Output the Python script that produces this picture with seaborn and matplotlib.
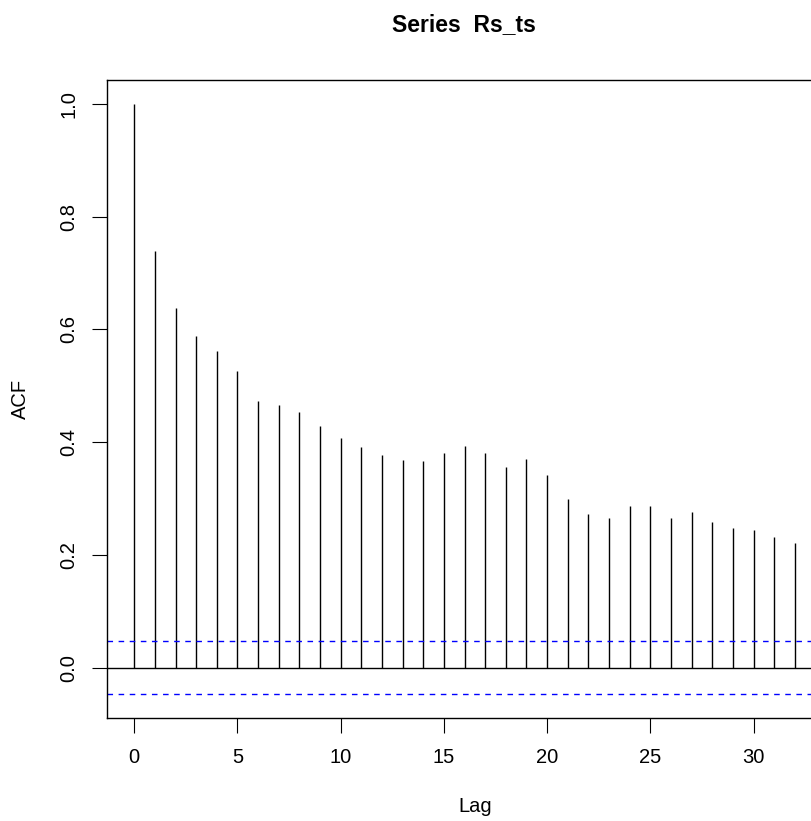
import numpy as np
import pandas as pd
import matplotlib
matplotlib.use("Agg")
import matplotlib.pyplot as plt
import seaborn as sns

# ACF values (lags 0..32 visible)
lags = list(range(33))
acf = [1.0, 0.739, 0.637, 0.588, 0.562, 0.526, 0.473, 0.466, 0.454, 0.428,
       0.407, 0.392, 0.378, 0.368, 0.366, 0.380, 0.394, 0.380, 0.356, 0.370,
       0.342, 0.300, 0.272, 0.265, 0.286, 0.286, 0.265, 0.277, 0.258, 0.248,
       0.245, 0.231, 0.222]
ci = 0.047
max_lag = 33

df = pd.DataFrame({"Lag": lags, "ACF": acf})

sns.set_theme(style="white")
plt.rcParams['font.family'] = ['Liberation Sans', 'DejaVu Sans']
plt.rcParams['text.color'] = 'black'
plt.rcParams['axes.labelcolor'] = 'black'
plt.rcParams['xtick.color'] = 'black'
plt.rcParams['ytick.color'] = 'black'

fig = plt.figure(figsize=(8.12, 8.21), dpi=100)
# axes box runs past the right edge of the picture, as in the cropped original
ax = fig.add_axes([107 / 812, 103 / 821, 735.7 / 812, 638 / 821])

ax.vlines(df["Lag"], 0, df["ACF"], color="black", linewidth=1.0)
ax.axhline(0, color="black", linewidth=1.0)
ax.axhline(ci, color="blue", linewidth=1.0, linestyle=(0, (4, 4)))
ax.axhline(-ci, color="blue", linewidth=1.0, linestyle=(0, (4, 4)))

pad = 0.04 * max_lag
ax.set_xlim(-pad, max_lag + pad)
ax.set_ylim(-0.089, 1.042)

ax.set_xticks([0, 5, 10, 15, 20, 25, 30])
ax.set_yticks([0.0, 0.2, 0.4, 0.6, 0.8, 1.0])
ax.set_yticklabels(["0.0", "0.2", "0.4", "0.6", "0.8", "1.0"], rotation=90, va="center")
ax.tick_params(axis="both", direction="out", length=10.5, width=0.8,
               labelsize=14.5, bottom=True, left=True)
ax.tick_params(axis="x", pad=11)
ax.tick_params(axis="y", pad=10)

for s in ax.spines.values():
    s.set_color("black")
    s.set_linewidth(1.0)

ax.set_xlabel("Lag", fontsize=14.5, labelpad=22)
ax.set_ylabel("ACF", fontsize=14.5, labelpad=21)
ax.set_title("Series  Rs_ts", fontsize=16.5, fontweight="bold", pad=35, x=0.485)

fig.savefig("out.png", dpi=100)
